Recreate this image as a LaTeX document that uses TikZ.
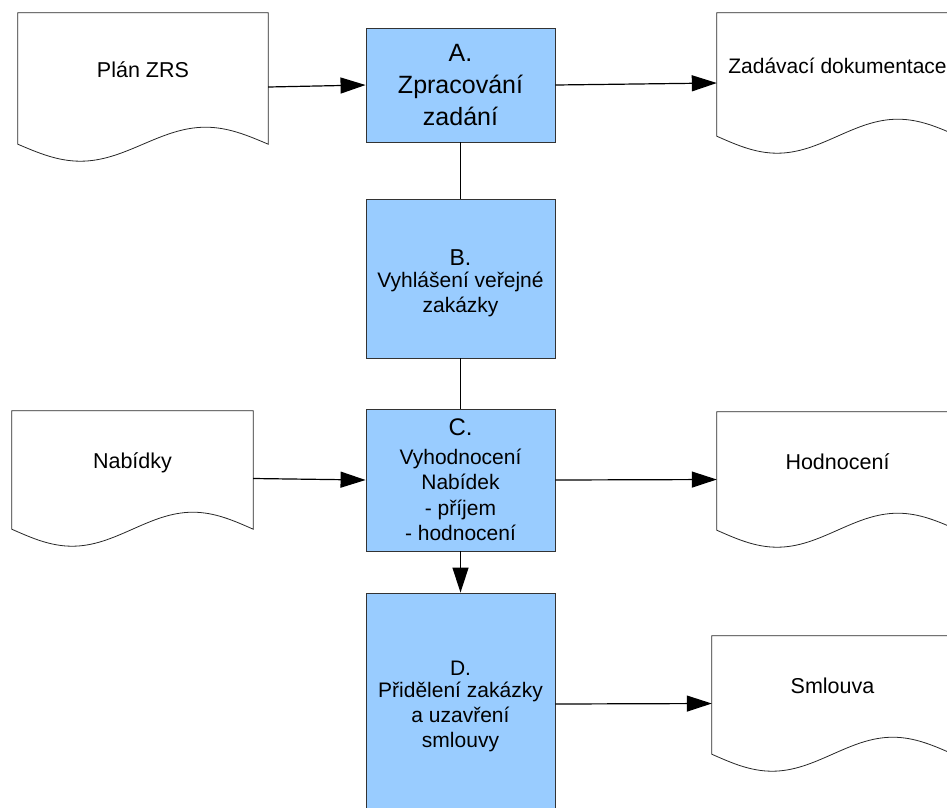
\documentclass[tikz,border=0pt]{standalone}
\usepackage{fontspec}
\setmainfont{Liberation Sans}
\usepackage{tikz}
\usetikzlibrary{arrows.meta,calc}
\definecolor{boxblue}{HTML}{99CCFF}

\begin{document}
\begin{tikzpicture}[x=1pt,y=-1pt,
		box/.style={draw=black!80,line width=0.9pt,fill=boxblue,minimum width=189pt,align=center,inner sep=0pt,font=\fontsize{21}{25}\selectfont},
		doc/.style={minimum width=241pt,minimum height=135pt,inner sep=0pt,text height=17pt,text depth=37pt,font=\fontsize{21.5}{26}\selectfont},
		flow/.style={line width=1.2pt,-{Triangle[length=25pt,width=16pt]}},
		link/.style={line width=1.2pt}]
		\clip (0,0) rectangle (947,807);
		%
		\node[doc,minimum width=250pt,minimum height=148pt] (planzrs) at (143,87) {Plán ZRS};
		\node[doc,minimum height=140pt,font=\fontsize{21}{26}\selectfont] (zaddok) at (837.5,83) {Zadávací dokumentace};
		\node[doc] (nabidky) at (132.5,478.5) {Nabídky};
		\node[doc] (hodnoc) at (837.5,479.5) {Hodnocení};
		\node[doc] (smlouva) at (832.5,703.5) {Smlouva};
		%
		\node[box,minimum height=114pt,font=\fontsize{25}{31.7}\selectfont] (zprac) at (460.5,85) {A.\\Zpracování\\zadání};
		\node[box,minimum height=159pt] (vyhl) at (460.5,278.5) {{\fontsize{23}{26}\selectfont\rule{0pt}{25pt}B.}\\[-3pt]Vyhlášení veřejné\\zakázky};
		\node[box,minimum height=142pt,font=\fontsize{21}{25.5}\selectfont] (vyhod) at (460.5,480) {{\fontsize{24}{26}\selectfont C.}\\[3pt]Vyhodnocení\\Nabídek\\- příjem\\- hodnocení};
		\node[box,minimum height=222pt] (prid) at (460.5,704) {\rule{0pt}{20pt}D.\\[-3pt]Přidělení zakázky\\a uzavření\\smlouvy};
		%
		\foreach \d in {planzrs,zaddok,nabidky,hodnoc,smlouva}
			\draw[black!85,line width=0.8pt] (\d.north west) -- (\d.north east) -- ([yshift=17pt]\d.south east)
				sin ($(\d.south east)!.25!(\d.south west)+(0pt,34pt)$)
				cos ([yshift=17pt]\d.south)
				sin ($(\d.south east)!.75!(\d.south west)$)
				cos ([yshift=17pt]\d.south west) -- cycle;
		%
		\draw[flow] (planzrs.east) -- (zprac.west);
		\draw[flow] (zprac.east) -- (zaddok.west);
		\draw[link] (zprac) -- (vyhl);
		\draw[link] (vyhl) -- (vyhod);
		\draw[flow] (nabidky.east) -- (vyhod.west);
		\draw[flow] (vyhod.east) -- (hodnoc.west);
		\draw[flow] (vyhod) -- (prid);
		\draw[flow] (prid.east) -- (smlouva.west);
	\end{tikzpicture}
\end{document}
